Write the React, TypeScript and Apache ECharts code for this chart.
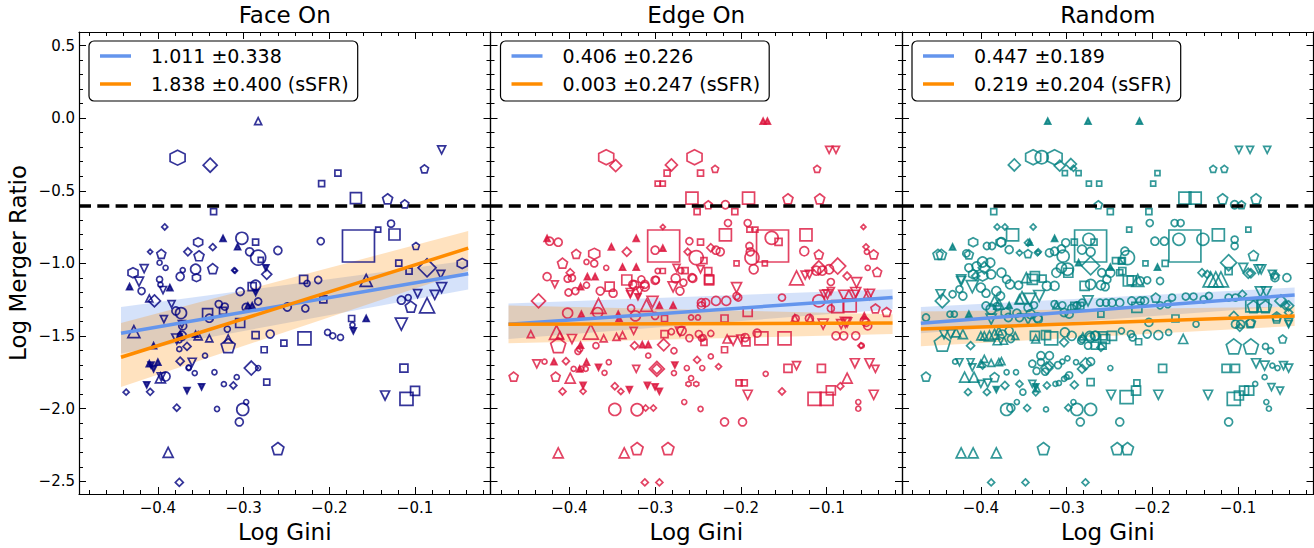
import React, { useEffect, useRef } from 'react';
import * as echarts from 'echarts';

type Pt = [number, number, number, string];

const panelTitles = ['Face On', 'Edge On', 'Random'];
const panelColors = ['#000080', '#DC143C', '#008080'];
const xAxisName = 'Log Gini';
const yAxisName = 'Log Merger Ratio';
const xTickValues = [-0.4, -0.3, -0.2, -0.1];
const xMinorTicks = [-0.48, -0.46, -0.44, -0.42, -0.38, -0.36, -0.34, -0.32, -0.28, -0.26, -0.24, -0.22, -0.18, -0.16, -0.14, -0.12, -0.08, -0.06, -0.04, -0.02];
const yTickValues = [-2.5, -2.0, -1.5, -1.0, -0.5, 0.0, 0.5];
const yMinorTicks = [-2.4, -2.3, -2.2, -2.1, -1.9, -1.8, -1.7, -1.6, -1.4, -1.3, -1.2, -1.1, -0.9, -0.8, -0.7, -0.6, -0.4, -0.3, -0.2, -0.1, 0.1, 0.2, 0.3, 0.4];
const X_MIN = -0.492;
const X_MAX = -0.012;
const Y_MIN = -2.587;
const Y_MAX = 0.593;
const mergerThreshold = -0.6;

const ratioLegend = ['1.011 \u00b10.338', '0.406 \u00b10.226', '0.447 \u00b10.189'];
const ssfrLegend = ['1.838 \u00b10.400 (sSFR)', '0.003 \u00b10.247 (sSFR)', '0.219 \u00b10.204 (sSFR)'];

const fitX = [[-0.443, -0.038], [-0.471, -0.023], [-0.47, -0.034]];
const ratioFitY = [[-1.48, -1.071], [-1.418, -1.235], [-1.411, -1.217]];
const ssfrFitY = [[-1.646, -0.895], [-1.418, -1.41], [-1.452, -1.361]];
const ratioBandUpper = [[-1.3, -0.98], [-1.275, -1.178], [-1.3, -1.166]];
const ratioBandLower = [[-1.62, -1.18], [-1.52, -1.315], [-1.48, -1.29]];
const ssfrBandUpper = [[-1.41, -0.777], [-1.29, -1.35], [-1.33, -1.297]];
const ssfrBandLower = [[-1.85, -1.05], [-1.55, -1.486], [-1.57, -1.43]];

const faceOnPoints: Pt[] = [
  [-0.283, -0.02, 7, '^'], [-0.377, -0.272, 15, 'h'], [-0.339, -0.324, 14, 'D'], [-0.209, -0.45, 6, 's'],
  [-0.19, -0.379, 6, 's'], [-0.089, -0.349, 8, 'p'], [-0.069, -0.219, 8, 'v'], [-0.169, -0.55, 11, 's'],
  [-0.132, -0.555, 10, 'p'], [-0.112, -0.59, 8, 'p'], [-0.335, -0.644, 6, 's'], [-0.392, -0.749, 6, 'D'],
  [-0.128, -0.726, 7, 'o'], [-0.143, -0.767, 5, 's'], [-0.166, -0.88, 32, 's'], [-0.124, -0.801, 11, 's'],
  [-0.21, -0.847, 7, 'o'], [-0.302, -0.827, 12, 'o'], [-0.324, -0.827, 6, '^'], [-0.353, -0.854, 9, 'h'],
  [-0.286, -0.854, 6, 's'], [-0.336, -0.888, 7, 'D'], [-0.365, -0.92, 8, 'D'], [-0.409, -0.92, 5, 'D'],
  [-0.396, -0.934, 9, 'p'], [-0.352, -0.947, 10, 'p'], [-0.283, -0.96, 15, 'o'], [-0.28, -0.975, 5, 's'],
  [-0.26, -0.911, 8, 'o'], [-0.293, -0.92, 8, 'o'], [-0.307, -0.885, 6, '^'], [-0.099, -0.88, 7, 'p'],
  [-0.31, -1.05, 5, 'D'], [-0.336, -1.036, 10, 'p'], [-0.356, -1.04, 10, 'o'], [-0.355, -1.098, 8, 'h'],
  [-0.374, -1.09, 8, 'o'], [-0.371, -1.046, 5, 'o'], [-0.398, -0.995, 5, 'o'], [-0.391, -1.03, 5, 'o'],
  [-0.416, -1.036, 8, 'v'], [-0.429, -1.064, 10, 'h'], [-0.119, -0.998, 6, 's'], [-0.045, -1.0, 10, 'h'],
  [-0.086, -1.03, 18, 'D'], [-0.107, -1.053, 6, 's'], [-0.07, -1.075, 8, 'v'], [-0.069, -1.166, 10, 'v'],
  [-0.23, -1.11, 8, 's'], [-0.226, -1.137, 6, 'o'], [-0.213, -1.114, 7, 'o'], [-0.157, -1.116, 12, '^'],
  [-0.273, -1.075, 10, 'D'], [-0.274, -1.03, 6, 'v'], [-0.311, -1.047, 5, 'D'], [-0.398, -1.11, 6, 'o'],
  [-0.397, -1.146, 5, 'o'], [-0.433, -1.16, 6, '^'], [-0.422, -1.125, 9, 'v'], [-0.419, -1.19, 7, 'o'],
  [-0.386, -1.166, 6, '^'], [-0.394, -1.183, 7, 'v'], [-0.404, -1.258, 12, 'D'], [-0.41, -1.24, 7, '^'],
  [-0.304, -1.194, 8, 'o'], [-0.29, -1.16, 8, 's'], [-0.286, -1.15, 10, 'o'], [-0.286, -1.2, 6, 'v'],
  [-0.283, -1.262, 7, 'o'], [-0.384, -1.28, 7, 'v'], [-0.373, -1.342, 11, 'o'], [-0.379, -1.327, 8, 'o'],
  [-0.393, -1.384, 7, 'v'], [-0.428, -1.47, 12, '^'], [-0.342, -1.345, 10, 's'], [-0.34, -1.377, 8, 'o'],
  [-0.329, -1.28, 7, 'o'], [-0.322, -1.297, 7, 'o'], [-0.324, -1.327, 7, 's'], [-0.297, -1.303, 8, 'o'],
  [-0.29, -1.29, 6, '^'], [-0.372, -1.418, 7, 'v'], [-0.371, -1.43, 8, 'o'], [-0.304, -1.41, 9, 's'],
  [-0.319, -1.452, 6, 'o'], [-0.249, -1.3, 8, 'o'], [-0.228, -1.31, 7, 'o'], [-0.207, -1.247, 7, 's'],
  [-0.174, -1.379, 6, 's'], [-0.173, -1.423, 5, 'o'], [-0.172, -1.464, 6, 'v'], [-0.157, -1.379, 6, '^'],
  [-0.116, -1.418, 12, 'v'], [-0.086, -1.288, 15, '^'], [-0.105, -1.297, 11, 'p'], [-0.116, -1.253, 8, 'o'],
  [-0.108, -1.235, 6, 'o'], [-0.097, -1.208, 8, 'v'], [-0.077, -1.217, 9, 'v'], [-0.269, -1.486, 8, 'o'],
  [-0.286, -1.493, 7, 's'], [-0.276, -1.594, 6, 's'], [-0.229, -1.516, 13, 's'], [-0.253, -1.548, 6, 's'],
  [-0.202, -1.475, 6, 'o'], [-0.196, -1.498, 6, 'o'], [-0.187, -1.509, 6, 'o'], [-0.318, -1.566, 14, 'p'],
  [-0.318, -1.52, 8, '^'], [-0.34, -1.516, 7, '^'], [-0.356, -1.486, 6, '^'], [-0.366, -1.571, 8, 'D'],
  [-0.374, -1.486, 6, '^'], [-0.375, -1.53, 5, 'o'], [-0.375, -1.59, 5, 'o'], [-0.345, -1.635, 5, 'o'],
  [-0.374, -1.673, 8, 'D'], [-0.36, -1.68, 8, 'v'], [-0.364, -1.715, 5, 'o'], [-0.357, -1.755, 5, 'o'],
  [-0.334, -1.749, 5, 'o'], [-0.291, -1.72, 14, 'D'], [-0.283, -1.72, 5, 'o'], [-0.273, -1.817, 6, 's'],
  [-0.41, -1.69, 6, '^'], [-0.408, -1.7, 6, 'v'], [-0.405, -1.726, 6, 'v'], [-0.4, -1.68, 6, '^'],
  [-0.397, -1.788, 10, '^'], [-0.391, -1.778, 9, 'o'], [-0.312, -1.84, 7, 'D'], [-0.323, -1.831, 5, 'o'],
  [-0.413, -1.836, 6, 'v'], [-0.113, -1.72, 8, 's'], [-0.437, -1.886, 6, 'D'], [-0.409, -1.884, 7, 'D'],
  [-0.366, -1.875, 6, 'v'], [-0.349, -1.849, 6, 'v'], [-0.308, -1.783, 5, 'o'], [-0.378, -1.993, 7, 'D'],
  [-0.331, -2.002, 5, 'o'], [-0.301, -2.005, 12, 'o'], [-0.297, -1.954, 5, 'o'], [-0.305, -2.091, 8, 'o'],
  [-0.388, -2.301, 10, '^'], [-0.26, -2.274, 12, 'p'], [-0.375, -2.507, 8, 'D'], [-0.135, -1.909, 9, 'v'],
  [-0.11, -1.932, 13, 's'], [-0.1, -1.877, 9, 's'], [-0.405, -1.566, 6, '^'], [-0.353, -1.498, 8, '^'],
  [-0.378, -1.52, 10, 'v'], [-0.372, -1.498, 9, 'o'], [-0.364, -1.72, 5, 'o'], [-0.396, -1.78, 8, 'v'],
  [-0.295, -1.292, 6, '^'],
];

const edgeOnPoints: Pt[] = [
  [-0.174, -0.02, 6, '^'], [-0.169, -0.02, 6, '^'], [-0.097, -0.219, 7, 'v'], [-0.089, -0.219, 7, 'v'],
  [-0.357, -0.269, 15, 'h'], [-0.346, -0.327, 12, 'D'], [-0.281, -0.322, 12, 'D'], [-0.254, -0.269, 15, 'h'],
  [-0.286, -0.379, 6, 's'], [-0.247, -0.379, 6, 's'], [-0.23, -0.349, 7, 'p'], [-0.111, -0.349, 7, 'p'],
  [-0.297, -0.45, 5, 's'], [-0.291, -0.45, 5, 's'], [-0.257, -0.55, 12, 's'], [-0.191, -0.55, 12, 's'],
  [-0.145, -0.555, 10, 'p'], [-0.108, -0.555, 10, 'p'], [-0.238, -0.596, 8, 'p'], [-0.218, -0.596, 8, 'o'],
  [-0.251, -0.644, 6, 's'], [-0.207, -0.644, 6, 's'], [-0.215, -0.722, 7, 'o'], [-0.192, -0.722, 7, 'o'],
  [-0.19, -0.767, 5, 's'], [-0.183, -0.767, 5, 's'], [-0.291, -0.749, 5, 'D'], [-0.057, -0.749, 5, 'D'],
  [-0.29, -0.88, 32, 's'], [-0.3, -0.909, 8, 'o'], [-0.291, -0.895, 6, '^'], [-0.163, -0.88, 32, 's'],
  [-0.164, -0.824, 13, 'o'], [-0.156, -0.851, 7, 's'], [-0.218, -0.803, 12, 's'], [-0.124, -0.803, 12, 's'],
  [-0.26, -0.847, 7, 'o'], [-0.247, -0.854, 6, 's'], [-0.322, -0.827, 6, '^'], [-0.351, -0.886, 6, '^'],
  [-0.423, -0.847, 8, 'o'], [-0.413, -0.854, 8, 'o'], [-0.426, -0.827, 6, '^'], [-0.333, -0.92, 9, 'D'],
  [-0.392, -0.934, 9, 'p'], [-0.371, -0.934, 11, 'h'], [-0.371, -1.0, 7, 'o'], [-0.408, -0.998, 10, 'p'],
  [-0.38, -0.99, 5, 'o'], [-0.357, -1.03, 5, 'o'], [-0.338, -1.025, 6, '^'], [-0.322, -1.025, 6, '^'],
  [-0.252, -0.96, 14, 'o'], [-0.262, -0.92, 7, 'D'], [-0.235, -0.892, 8, 'D'], [-0.229, -0.909, 8, 'o'],
  [-0.224, -0.92, 8, 'o'], [-0.205, -1.0, 5, 's'], [-0.189, -0.92, 8, 'o'], [-0.187, -0.96, 14, 'o'],
  [-0.185, -1.04, 9, 'o'], [-0.172, -1.0, 5, 's'], [-0.126, -0.916, 9, 'o'], [-0.109, -0.938, 9, 'p'],
  [-0.109, -1.03, 14, 'D'], [-0.087, -1.018, 16, 'D'], [-0.054, -0.886, 6, 'D'], [-0.053, -0.92, 5, 'o'],
  [-0.045, -0.938, 9, 'p'], [-0.135, -1.1, 14, '^'], [-0.125, -1.08, 8, 'v'], [-0.041, -1.059, 9, 'p'],
  [-0.052, -1.03, 5, 'o'], [-0.399, -1.064, 8, 'D'], [-0.426, -1.091, 8, 'o'], [-0.076, -1.087, 8, 'D'],
  [-0.297, -1.052, 5, 'o'], [-0.291, -1.052, 5, 's'], [-0.275, -1.03, 7, 'v'], [-0.27, -1.05, 6, 'o'],
  [-0.265, -1.05, 6, 's'], [-0.417, -1.144, 7, 'v'], [-0.402, -1.105, 7, 'o'], [-0.397, -1.1, 7, 'o'],
  [-0.379, -1.091, 6, '^'], [-0.37, -1.091, 6, '^'], [-0.333, -1.114, 10, 's'], [-0.316, -1.11, 7, 'o'],
  [-0.299, -1.114, 7, 'o'], [-0.276, -1.103, 9, 'o'], [-0.279, -1.162, 10, 'v'], [-0.267, -1.132, 7, 'o'],
  [-0.256, -1.103, 8, 'o'], [-0.393, -1.19, 7, 'o'], [-0.387, -1.16, 6, '^'], [-0.38, -1.15, 6, 'o'],
  [-0.364, -1.19, 8, 'o'], [-0.353, -1.16, 9, 's'], [-0.324, -1.15, 9, 'o'], [-0.312, -1.16, 9, 'o'],
  [-0.329, -1.212, 7, 'v'], [-0.32, -1.23, 6, 'v'], [-0.436, -1.258, 14, 'D'], [-0.366, -1.292, 15, '^'],
  [-0.402, -1.342, 10, 'o'], [-0.367, -1.338, 10, 'o'], [-0.386, -1.349, 6, '^'], [-0.343, -1.349, 6, '^'],
  [-0.328, -1.308, 7, 'o'], [-0.31, -1.288, 12, '^'], [-0.303, -1.265, 11, 'v'], [-0.323, -1.361, 10, 'o'],
  [-0.295, -1.288, 6, '^'], [-0.279, -1.288, 6, '^'], [-0.3, -1.361, 7, 'o'], [-0.289, -1.379, 6, 's'],
  [-0.246, -1.292, 8, 'o'], [-0.342, -1.379, 6, '^'], [-0.445, -1.486, 7, '^'], [-0.415, -1.475, 14, '^'],
  [-0.411, -1.493, 7, '^'], [-0.397, -1.52, 9, 'v'], [-0.375, -1.47, 15, '^'], [-0.413, -1.562, 15, 'p'],
  [-0.36, -1.516, 7, '^'], [-0.345, -1.505, 7, '^'], [-0.338, -1.493, 7, '^'], [-0.325, -1.464, 7, 'v'],
  [-0.387, -1.562, 6, '^'], [-0.369, -1.566, 6, 'o'], [-0.39, -1.605, 6, 'o'], [-0.324, -1.566, 8, 'D'],
  [-0.315, -1.559, 6, '^'], [-0.308, -1.559, 6, '^'], [-0.308, -1.635, 5, 'o'], [-0.29, -1.56, 12, 'D'],
  [-0.278, -1.601, 6, 'o'], [-0.289, -1.486, 7, 's'], [-0.438, -1.692, 8, 'v'], [-0.429, -1.676, 5, 'o'],
  [-0.418, -1.676, 6, '^'], [-0.404, -1.673, 7, 'D'], [-0.388, -1.726, 6, '^'], [-0.399, -1.79, 10, '^'],
  [-0.395, -1.726, 5, 'o'], [-0.386, -1.726, 5, 'o'], [-0.381, -1.726, 5, 'o'], [-0.38, -1.68, 6, '^'],
  [-0.366, -1.715, 6, 'v'], [-0.359, -1.753, 5, 'o'], [-0.354, -1.68, 5, 'o'], [-0.322, -1.726, 7, 'v'],
  [-0.298, -1.726, 15, 'D'], [-0.298, -1.726, 10, 'D'], [-0.278, -1.755, 5, 'o'], [-0.277, -1.699, 6, 'v'],
  [-0.465, -1.779, 9, 'p'], [-0.416, -1.779, 9, 'p'], [-0.263, -1.72, 5, 'o'], [-0.258, -1.79, 5, 'o'],
  [-0.261, -1.83, 5, 'h'], [-0.252, -1.83, 5, 'h'], [-0.408, -1.881, 7, 'D'], [-0.384, -1.84, 6, 'v'],
  [-0.384, -1.88, 6, 'D'], [-0.347, -1.845, 7, 'D'], [-0.34, -1.881, 6, 'D'], [-0.33, -1.868, 6, 'v'],
  [-0.309, -1.84, 6, 'v'], [-0.3, -1.85, 6, 'v'], [-0.295, -1.88, 6, 'v'], [-0.347, -2.005, 12, 'o'],
  [-0.321, -2.007, 12, 'o'], [-0.311, -1.995, 6, 'D'], [-0.302, -1.995, 6, 'D'], [-0.266, -1.954, 5, 'o'],
  [-0.247, -2.002, 5, 'o'], [-0.235, -1.64, 5, 'o'], [-0.219, -2.091, 8, 'o'], [-0.198, -2.091, 8, 'o'],
  [-0.413, -2.304, 10, '^'], [-0.336, -2.304, 10, '^'], [-0.321, -2.274, 12, 'p'], [-0.285, -2.274, 12, 'p'],
  [-0.312, -2.507, 7, 'D'], [-0.295, -2.507, 7, 'D'], [-0.251, -1.664, 7, 'D'], [-0.245, -1.72, 5, 'o'],
  [-0.226, -1.71, 6, 'D'], [-0.219, -1.594, 6, 's'], [-0.202, -1.822, 6, 's'], [-0.196, -1.822, 6, 's'],
  [-0.192, -1.904, 9, 'v'], [-0.171, -1.76, 5, 'o'], [-0.152, -1.881, 7, 'D'], [-0.145, -1.722, 8, 's'],
  [-0.135, -1.703, 8, 'v'], [-0.106, -1.722, 8, 's'], [-0.114, -1.932, 13, 's'], [-0.1, -1.932, 13, 's'],
  [-0.095, -1.874, 9, 's'], [-0.084, -1.845, 7, 'D'], [-0.076, -1.79, 10, '^'], [-0.067, -1.687, 9, 'v'],
  [-0.05, -1.687, 9, 'v'], [-0.043, -1.726, 7, 'v'], [-0.045, -1.904, 9, 'v'], [-0.063, -1.954, 5, 'o'],
  [-0.063, -2.0, 5, 'o'], [-0.06, -1.566, 6, 'D'], [-0.08, -1.498, 8, 'o'], [-0.089, -1.498, 8, 'o'],
  [-0.066, -1.498, 8, 'o'], [-0.149, -1.516, 13, 's'], [-0.176, -1.516, 13, 's'], [-0.181, -1.48, 8, 'o'],
  [-0.195, -1.51, 8, 'o'], [-0.194, -1.54, 8, 's'], [-0.216, -1.52, 8, '^'], [-0.2, -1.52, 8, 'v'],
  [-0.137, -1.377, 7, '^'], [-0.12, -1.379, 8, 'o'], [-0.054, -1.406, 8, 'o'], [-0.104, -1.418, 10, 'v'],
  [-0.078, -1.406, 10, 'v'], [-0.03, -1.334, 9, 'p'], [-0.043, -1.31, 9, 'p'], [-0.073, -1.288, 13, 's'],
  [-0.087, -1.297, 12, 's'], [-0.095, -1.31, 7, 'o'], [-0.099, -1.212, 9, 'v'], [-0.109, -1.258, 12, 'o'],
  [-0.052, -1.212, 8, '^'], [-0.08, -1.219, 10, 'v'], [-0.068, -1.219, 10, 'v'], [-0.065, -1.132, 10, 'v'],
  [-0.095, -1.128, 7, 'o'], [-0.152, -1.235, 7, 'o'], [-0.192, -1.334, 9, 's'], [-0.205, -1.224, 7, 'o'],
  [-0.205, -1.166, 10, 'v'], [-0.229, -1.258, 9, 'o'], [-0.217, -1.258, 9, 'o'], [-0.219, -1.379, 7, 's'],
  [-0.246, -1.27, 8, 'o'], [-0.241, -1.27, 8, 'o'], [-0.258, -1.372, 5, 'o'], [-0.25, -1.372, 5, 'o'],
  [-0.269, -1.464, 9, 'o'], [-0.271, -1.47, 9, 'v'], [-0.281, -1.47, 6, 'o'], [-0.26, -1.514, 7, 'o'],
  [-0.246, -1.514, 6, 'o'], [-0.243, -1.543, 6, 's'], [-0.235, -1.482, 6, 'o'], [-0.388, -1.589, 6, 'o'],
  [-0.326, -1.144, 8, 'o'], [-0.312, -1.144, 8, 'o'], [-0.3, -1.116, 8, 'o'], [-0.271, -1.19, 8, 'o'],
  [-0.257, -1.098, 8, 'o'], [-0.237, -1.11, 9, 's'], [-0.401, -1.2, 7, 'o'], [-0.329, -1.2, 8, 'v'],
  [-0.318, -1.19, 8, 'v'], [-0.349, -1.205, 8, 'o'], [-0.243, -0.98, 6, 's'], [-0.247, -1.04, 7, 'v'],
  [-0.238, -1.053, 7, 's'], [-0.237, -1.116, 9, 's'], [-0.19, -0.88, 7, 'o'], [-0.203, -1.235, 7, 'o'],
  [-0.112, -1.05, 9, 'o'], [-0.105, -1.05, 9, 'o'], [-0.097, -1.04, 9, 'o'], [-0.12, -1.075, 8, 'v'],
  [-0.103, -1.212, 8, 'v'], [-0.095, -1.19, 7, 'v'], [-0.066, -1.2, 10, 'v'], [-0.05, -1.212, 10, 'v'],
  [-0.249, -1.486, 7, 'o'], [-0.244, -1.51, 6, 'o'], [-0.209, -1.532, 9, 'v'], [-0.136, -1.379, 7, 'o'],
  [-0.119, -1.379, 7, '^'], [-0.083, -1.418, 9, 'v'], [-0.076, -1.406, 9, 'v'], [-0.056, -1.361, 6, '^'],
  [-0.056, -1.395, 8, 'o'], [-0.052, -1.43, 8, 'o'], [-0.059, -1.566, 5, 'o'],
];

const randomPoints: Pt[] = [
  [-0.322, -0.02, 6, '^'], [-0.275, -0.02, 6, '^'], [-0.215, -0.02, 6, '^'], [-0.099, -0.219, 7, 'v'],
  [-0.086, -0.219, 7, 'v'], [-0.066, -0.219, 7, 'v'], [-0.129, -0.349, 7, 'p'], [-0.116, -0.349, 7, 'p'],
  [-0.361, -0.322, 12, 'D'], [-0.339, -0.269, 15, 'h'], [-0.329, -0.269, 13, 'o'], [-0.314, -0.269, 15, 'h'],
  [-0.308, -0.327, 11, 'D'], [-0.295, -0.316, 11, 'D'], [-0.302, -0.379, 5, 's'], [-0.292, -0.345, 6, 'D'],
  [-0.286, -0.379, 5, 's'], [-0.274, -0.45, 5, 's'], [-0.262, -0.45, 5, 's'], [-0.194, -0.379, 5, 's'],
  [-0.199, -0.45, 5, 's'], [-0.162, -0.55, 12, 's'], [-0.15, -0.55, 12, 's'], [-0.118, -0.555, 10, 'p'],
  [-0.079, -0.555, 10, 'p'], [-0.104, -0.596, 8, 'o'], [-0.096, -0.596, 8, 'p'], [-0.263, -0.596, 8, 'p'],
  [-0.385, -0.644, 6, 's'], [-0.249, -0.644, 6, 's'], [-0.204, -0.644, 6, 's'], [-0.203, -0.722, 7, 'o'],
  [-0.227, -0.767, 5, 's'], [-0.088, -0.767, 5, 's'], [-0.381, -0.749, 6, 'D'], [-0.372, -0.749, 6, 'D'],
  [-0.339, -0.749, 6, 'D'], [-0.363, -0.803, 12, 's'], [-0.314, -0.827, 6, '^'], [-0.272, -0.88, 32, 's'],
  [-0.162, -0.88, 32, 's'], [-0.274, -0.834, 12, 'o'], [-0.268, -0.854, 6, 's'], [-0.169, -0.834, 12, 'o'],
  [-0.141, -0.834, 12, 'o'], [-0.174, -0.722, 7, 'o'], [-0.167, -0.722, 7, 'o'], [-0.123, -0.803, 12, 's'],
  [-0.104, -0.836, 7, 'o'], [-0.104, -0.88, 7, 'o'], [-0.197, -0.847, 8, 'o'], [-0.186, -0.847, 8, 'o'],
  [-0.433, -0.886, 6, '^'], [-0.45, -0.938, 10, 'p'], [-0.446, -0.938, 10, 'p'], [-0.414, -0.938, 9, 'p'],
  [-0.409, -0.854, 9, 'h'], [-0.393, -0.88, 7, 'o'], [-0.387, -0.88, 7, 'o'], [-0.376, -0.854, 9, 'o'],
  [-0.367, -0.905, 8, 'o'], [-0.345, -0.858, 7, 'D'], [-0.345, -0.932, 8, 'p'], [-0.333, -0.92, 6, 'D'],
  [-0.304, -0.95, 12, 'o'], [-0.306, -0.9, 8, 'o'], [-0.272, -1.016, 18, 'D'], [-0.272, -0.92, 9, 'o'],
  [-0.232, -0.916, 8, 'o'], [-0.229, -0.96, 14, 'o'], [-0.236, -0.984, 6, 's'], [-0.208, -1.0, 5, 's'],
  [-0.194, -1.025, 6, '^'], [-0.185, -1.0, 6, 's'], [-0.249, -1.025, 6, '^'], [-0.111, -0.995, 16, 'D'],
  [-0.142, -1.064, 8, 'D'], [-0.136, -1.075, 8, 'D'], [-0.082, -0.945, 10, 'p'], [-0.076, -1.04, 9, 'v'],
  [-0.073, -1.04, 9, 'v'], [-0.057, -1.098, 8, 'o'], [-0.043, -1.098, 8, 'o'], [-0.06, -1.075, 8, 'v'],
  [-0.085, -1.068, 9, 'D'], [-0.417, -0.931, 7, 'o'], [-0.377, -0.854, 9, 'h'], [-0.343, -0.854, 6, '^'],
  [-0.355, -0.927, 6, 'D'], [-0.334, -0.927, 6, 'D'], [-0.32, -0.927, 8, 'o'], [-0.314, -0.916, 8, 'o'],
  [-0.301, -0.858, 8, 'o'], [-0.291, -0.854, 6, 's'], [-0.282, -0.905, 9, 'o'], [-0.286, -0.995, 6, '^'],
  [-0.414, -1.03, 8, 'o'], [-0.405, -1.02, 9, 'o'], [-0.398, -0.99, 10, 'o'], [-0.389, -0.995, 9, 'o'],
  [-0.396, -1.03, 12, 'D'], [-0.398, -1.087, 10, 'h'], [-0.406, -1.087, 8, 'D'], [-0.41, -1.16, 12, 'v'],
  [-0.423, -1.121, 9, 'v'], [-0.433, -1.212, 7, 'o'], [-0.425, -1.178, 7, 'o'], [-0.421, -1.224, 8, 'o'],
  [-0.447, -1.212, 9, 'v'], [-0.445, -1.258, 14, 'D'], [-0.464, -1.372, 7, 'o'], [-0.436, -1.349, 6, 'o'],
  [-0.431, -1.349, 6, 'o'], [-0.414, -1.349, 6, '^'], [-0.4, -1.166, 9, 'o'], [-0.394, -1.205, 8, 'o'],
  [-0.382, -1.19, 9, 'o'], [-0.377, -1.224, 8, 'o'], [-0.384, -1.258, 10, '^'], [-0.379, -1.28, 10, '^'],
  [-0.394, -1.292, 8, 'o'], [-0.388, -1.315, 10, 'o'], [-0.381, -1.297, 8, 'o'], [-0.388, -1.384, 10, 'v'],
  [-0.371, -1.338, 9, 'h'], [-0.367, -1.288, 6, '^'], [-0.358, -1.342, 8, 'o'], [-0.356, -1.15, 8, 'o'],
  [-0.366, -1.144, 9, 'o'], [-0.34, -1.11, 10, 's'], [-0.328, -1.105, 7, 's'], [-0.323, -1.155, 9, 'o'],
  [-0.314, -1.155, 9, 'o'], [-0.332, -1.224, 11, 'v'], [-0.345, -1.303, 8, 'o'], [-0.338, -1.288, 7, 'o'],
  [-0.342, -1.349, 9, 'o'], [-0.334, -1.372, 9, 'o'], [-0.355, -1.247, 9, '^'], [-0.312, -1.288, 7, '^'],
  [-0.303, -1.338, 8, 'o'], [-0.297, -1.349, 8, 'o'], [-0.291, -1.292, 7, 's'], [-0.284, -1.292, 7, 's'],
  [-0.299, -1.04, 12, 'o'], [-0.306, -1.03, 10, 'o'], [-0.279, -1.155, 9, 's'], [-0.272, -1.144, 10, 'o'],
  [-0.26, -1.15, 9, 'o'], [-0.255, -1.16, 8, 'o'], [-0.253, -1.11, 8, 'o'], [-0.26, -1.349, 6, 's'],
  [-0.396, -1.498, 8, '^'], [-0.39, -1.498, 10, '^'], [-0.384, -1.486, 10, '^'], [-0.379, -1.464, 8, '^'],
  [-0.381, -1.532, 8, '^'], [-0.4, -1.498, 8, '^'], [-0.375, -1.486, 8, 'o'], [-0.367, -1.464, 8, 'o'],
  [-0.365, -1.52, 7, 'o'], [-0.373, -1.532, 7, '^'], [-0.445, -1.548, 16, 'p'], [-0.443, -1.486, 9, 'v'],
  [-0.435, -1.486, 9, 'v'], [-0.429, -1.475, 9, '^'], [-0.421, -1.486, 9, '^'], [-0.412, -1.566, 8, 'D'],
  [-0.36, -1.498, 7, '^'], [-0.337, -1.498, 9, 's'], [-0.336, -1.52, 8, '^'], [-0.318, -1.516, 13, 's'],
  [-0.324, -1.493, 9, 's'], [-0.303, -1.543, 9, 'D'], [-0.283, -1.532, 7, 'o'], [-0.275, -1.566, 7, 'o'],
  [-0.281, -1.502, 7, '^'], [-0.273, -1.498, 9, 'o'], [-0.267, -1.498, 9, 'o'], [-0.267, -1.566, 7, 's'],
  [-0.258, -1.566, 7, 's'], [-0.258, -1.498, 8, 's'], [-0.425, -1.68, 7, 'v'], [-0.412, -1.68, 7, 'v'],
  [-0.41, -1.715, 7, 'v'], [-0.43, -1.676, 5, 'o'], [-0.4, -1.69, 7, '^'], [-0.396, -1.657, 7, '^'],
  [-0.388, -1.685, 7, '^'], [-0.379, -1.68, 7, '^'], [-0.376, -1.673, 7, '^'], [-0.398, -1.703, 7, 'D'],
  [-0.37, -1.749, 5, 'o'], [-0.359, -1.749, 5, 'o'], [-0.384, -1.783, 9, 'p'], [-0.419, -1.783, 10, '^'],
  [-0.408, -1.783, 10, '^'], [-0.392, -1.824, 8, 'v'], [-0.464, -1.779, 9, 'p'], [-0.34, -1.69, 7, 'o'],
  [-0.33, -1.68, 7, 'o'], [-0.335, -1.74, 7, 'o'], [-0.325, -1.745, 7, 'o'], [-0.31, -1.7, 7, 'o'],
  [-0.323, -1.72, 12, 'D'], [-0.32, -1.703, 9, 'D'], [-0.297, -1.77, 7, 'o'], [-0.33, -1.635, 8, 'o'],
  [-0.32, -1.635, 8, 'o'], [-0.305, -1.676, 5, 'o'], [-0.299, -1.653, 5, 'o'], [-0.289, -1.68, 5, 'o'],
  [-0.278, -1.692, 12, 'D'], [-0.282, -1.726, 9, 'D'], [-0.272, -1.676, 8, 'o'], [-0.291, -1.836, 8, 'D'],
  [-0.323, -1.84, 7, 'D'], [-0.313, -1.829, 5, 'o'], [-0.309, -1.824, 5, 'o'], [-0.303, -1.795, 5, 'o'],
  [-0.3, -1.783, 5, 'o'], [-0.34, -1.829, 7, 'v'], [-0.335, -1.858, 7, '^'], [-0.272, -1.817, 7, 's'],
  [-0.4, -1.829, 7, 'v'], [-0.415, -1.886, 7, 'D'], [-0.393, -1.886, 7, 'D'], [-0.382, -1.868, 6, 'v'],
  [-0.372, -1.84, 8, 'D'], [-0.355, -1.829, 7, 'D'], [-0.351, -1.886, 6, 'o'], [-0.336, -1.89, 6, 'D'],
  [-0.336, -1.85, 6, 'v'], [-0.37, -2.005, 12, 'o'], [-0.365, -1.995, 8, 'o'], [-0.358, -1.954, 5, 'o'],
  [-0.346, -1.995, 7, 'D'], [-0.324, -2.005, 5, 'o'], [-0.298, -1.993, 7, 'D'], [-0.292, -1.954, 5, 'o'],
  [-0.288, -2.005, 12, 'o'], [-0.272, -2.005, 12, 'o'], [-0.284, -2.091, 8, 'o'], [-0.238, -2.091, 8, 'o'],
  [-0.423, -2.304, 10, '^'], [-0.409, -2.304, 10, '^'], [-0.382, -2.304, 10, '^'], [-0.327, -2.274, 12, 'p'],
  [-0.241, -2.274, 12, 'p'], [-0.229, -2.274, 12, 'p'], [-0.388, -2.507, 7, 'D'], [-0.348, -2.507, 7, 'D'],
  [-0.278, -2.507, 7, 'D'], [-0.248, -1.904, 9, 'v'], [-0.23, -1.92, 13, 's'], [-0.219, -1.875, 9, 's'],
  [-0.218, -1.822, 6, 's'], [-0.193, -1.904, 9, 'v'], [-0.135, -1.904, 9, 'v'], [-0.188, -1.722, 8, 's'],
  [-0.249, -1.72, 5, 'o'], [-0.105, -1.932, 13, 's'], [-0.099, -1.909, 9, 's'], [-0.093, -1.875, 9, 's'],
  [-0.087, -1.875, 9, 's'], [-0.08, -1.829, 5, 'o'], [-0.061, -1.851, 7, 'v'], [-0.051, -1.875, 7, 'v'],
  [-0.067, -1.954, 5, 'o'], [-0.064, -2.0, 5, 'o'], [-0.111, -2.091, 8, 'o'], [-0.114, -1.722, 8, 's'],
  [-0.103, -1.722, 8, 's'], [-0.079, -1.687, 9, 'v'], [-0.069, -1.703, 9, 'v'], [-0.06, -1.703, 5, 'o'],
  [-0.054, -1.72, 5, 'o'], [-0.047, -1.703, 8, 'v'], [-0.041, -1.72, 8, 'v'], [-0.069, -1.783, 5, 'o'],
  [-0.164, -1.52, 9, '^'], [-0.105, -1.571, 15, 'p'], [-0.085, -1.571, 15, 'p'], [-0.068, -1.571, 6, 'o'],
  [-0.062, -1.601, 6, 'o'], [-0.048, -1.52, 8, 'p'], [-0.085, -1.406, 9, 'p'], [-0.098, -1.44, 8, 'D'],
  [-0.055, -1.379, 9, 'p'], [-0.041, -1.406, 8, 'v'], [-0.206, -1.486, 8, 'o'], [-0.193, -1.493, 9, 'o'],
  [-0.181, -1.475, 6, 'o'], [-0.173, -1.379, 7, 's'], [-0.204, -1.406, 8, 'o'], [-0.236, -1.464, 6, 'o'],
  [-0.225, -1.486, 7, 'o'], [-0.223, -1.509, 7, 'o'], [-0.216, -1.539, 6, 's'], [-0.255, -1.52, 9, 's'],
  [-0.247, -1.498, 9, 's'], [-0.074, -1.196, 10, 'v'], [-0.067, -1.196, 10, 'v'], [-0.084, -1.292, 12, 's'],
  [-0.071, -1.292, 12, 's'], [-0.05, -1.258, 12, 'D'], [-0.045, -1.288, 9, 'D'], [-0.095, -1.212, 8, 'D'],
  [-0.103, -1.235, 7, 'o'], [-0.152, -1.228, 7, 'o'], [-0.161, -1.228, 7, 'o'], [-0.14, -1.247, 7, 'o'],
  [-0.134, -1.224, 7, 'o'], [-0.196, -1.235, 9, 'p'], [-0.191, -1.288, 7, 'o'], [-0.182, -1.28, 7, 'o'],
  [-0.224, -1.258, 8, 'o'], [-0.214, -1.258, 8, 'o'], [-0.209, -1.258, 8, 'o'], [-0.218, -1.303, 10, 's'],
  [-0.247, -1.27, 8, 'o'], [-0.238, -1.27, 8, 'o'], [-0.261, -1.27, 7, 'o'], [-0.254, -1.27, 7, 'o'],
  [-0.275, -1.258, 10, 'v'], [-0.282, -1.27, 7, 'o'], [-0.288, -1.292, 8, 'o'], [-0.294, -1.31, 8, 'o'],
  [-0.314, -1.28, 7, 'o'], [-0.305, -1.288, 7, 'o'], [-0.368, -1.372, 8, 'o'], [-0.355, -1.372, 8, 'o'],
  [-0.345, -1.384, 10, 'v'], [-0.333, -1.384, 8, 'o'], [-0.302, -1.475, 9, 'o'], [-0.294, -1.498, 9, 'o'],
  [-0.282, -1.52, 7, 'o'], [-0.272, -1.51, 9, 'o'], [-0.266, -1.498, 9, 'o'], [-0.26, -1.578, 8, 'D'],
  [-0.057, -1.082, 9, 'D'], [-0.132, -1.11, 15, '^'], [-0.126, -1.11, 15, '^'], [-0.12, -1.11, 15, '^'],
  [-0.243, -0.98, 6, 's'], [-0.235, -0.98, 6, 's'], [-0.235, -1.053, 7, 's'], [-0.224, -1.116, 9, 's'],
  [-0.217, -1.116, 12, '^'], [-0.214, -1.121, 8, 'o'], [-0.206, -1.116, 7, 'o'], [-0.191, -1.121, 7, 'o'],
  [-0.088, -1.068, 10, 'D'], [-0.094, -1.03, 9, 'v'], [-0.111, -1.053, 7, 's'], [-0.177, -1.235, 7, 'o'],
  [-0.111, -1.235, 7, 'o'], [-0.082, -1.297, 12, 'p'], [-0.068, -1.297, 12, 'p'], [-0.041, -1.292, 10, 'D'],
  [-0.041, -1.338, 8, 'D'], [-0.041, -1.418, 7, 'v'], [-0.055, -1.365, 9, 'p'], [-0.149, -1.418, 6, 'o'],
  [-0.105, -1.361, 9, 'D'], [-0.103, -1.418, 8, 'o'], [-0.097, -1.418, 8, 'o'], [-0.086, -1.411, 9, 'p'],
  [-0.423, -1.11, 9, 'v'], [-0.409, -1.075, 9, 'h'], [-0.388, -1.075, 9, 'o'], [-0.376, -1.064, 9, 'o'],
  [-0.37, -1.11, 8, 'o'], [-0.347, -1.098, 10, '^'], [-0.337, -1.087, 9, 's'], [-0.352, -1.235, 12, '^'],
  [-0.343, -1.247, 12, 'v'], [-0.312, -1.064, 9, 'o'], [-0.298, -1.064, 9, 's'], [-0.259, -1.064, 8, 'o'],
  [-0.228, -1.121, 10, 's'], [-0.249, -1.064, 9, 'o'], [-0.238, -1.064, 6, 's'],
];

const panelPoints = [faceOnPoints, edgeOnPoints, randomPoints];

const FONT = 'DejaVu Sans';
const GRID_LEFT = [79, 490.5, 902];
const GRID_W = 411.5;
const GRID_TOP = 32;
const GRID_H = 464;
const RATIO_COLOR = '#6495ED';
const SSFR_COLOR = '#FF8C00';

const SYMBOLS: Record<string, string> = {
  o: 'circle',
  s: 'rect',
  '^': 'triangle',
  v: 'triangle',
  D: 'diamond',
  p: 'path://M0,-1L0.951,-0.309L0.588,0.809L-0.588,0.809L-0.951,-0.309Z',
  h: 'path://M0,-1L0.866,-0.5L0.866,0.5L0,1L-0.866,0.5L-0.866,-0.5Z',
};

const minus = (s: string) => s.replace('-', '\u2212');

function buildOption() {
  const grid: any[] = [];
  const xAxis: any[] = [];
  const yAxis: any[] = [];
  const series: any[] = [];
  const axisLineStyle = { color: '#000', width: 1.2 };
  const tickStyle = { color: '#000', width: 1 };

  for (let g = 0; g < 3; g++) {
    grid.push({ left: GRID_LEFT[g], top: GRID_TOP, width: GRID_W, height: GRID_H, containLabel: false });
    const xBase = { type: 'value', gridIndex: g, min: X_MIN, max: X_MAX, splitLine: { show: false } };
    const yBase = { type: 'value', gridIndex: g, min: Y_MIN, max: Y_MAX, splitLine: { show: false } };
    xAxis.push(
      {
        ...xBase, position: 'bottom',
        name: xAxisName, nameLocation: 'middle', nameGap: 26,
        nameTextStyle: { fontSize: 23, color: '#000', fontFamily: FONT },
        axisLine: { show: true, onZero: false, lineStyle: axisLineStyle },
        axisTick: { show: true, inside: true, length: 7, customValues: xTickValues, lineStyle: tickStyle },
        axisLabel: { show: true, customValues: xTickValues, formatter: (v: number) => minus(v.toFixed(1)), fontSize: 15, color: '#000', fontFamily: FONT, margin: 6 },
      },
      {
        ...xBase, position: 'bottom',
        axisLine: { show: false, onZero: false },
        axisTick: { show: true, inside: true, length: 4, customValues: xMinorTicks, lineStyle: tickStyle },
        axisLabel: { show: false },
      },
      {
        ...xBase, position: 'top',
        axisLine: { show: true, onZero: false, lineStyle: axisLineStyle },
        axisTick: { show: true, inside: true, length: 7, customValues: xTickValues, lineStyle: tickStyle },
        axisLabel: { show: false },
      },
      {
        ...xBase, position: 'top',
        axisLine: { show: false, onZero: false },
        axisTick: { show: true, inside: true, length: 4, customValues: xMinorTicks, lineStyle: tickStyle },
        axisLabel: { show: false },
      },
    );
    yAxis.push(
      {
        ...yBase, position: 'left',
        name: g === 0 ? yAxisName : '', nameLocation: 'middle', nameGap: 50,
        nameTextStyle: { fontSize: 23, color: '#000', fontFamily: FONT },
        axisLine: { show: true, onZero: false, lineStyle: axisLineStyle },
        axisTick: { show: true, inside: true, length: 7, customValues: yTickValues, lineStyle: tickStyle },
        axisLabel: { show: g === 0, customValues: yTickValues, formatter: (v: number) => minus(v.toFixed(1)), fontSize: 15, color: '#000', fontFamily: FONT, margin: 4 },
      },
      {
        ...yBase, position: 'left',
        axisLine: { show: false, onZero: false },
        axisTick: { show: true, inside: true, length: 4, customValues: yMinorTicks, lineStyle: tickStyle },
        axisLabel: { show: false },
      },
      {
        ...yBase, position: 'right',
        axisLine: { show: true, onZero: false, lineStyle: axisLineStyle },
        axisTick: { show: true, inside: true, length: 7, customValues: yTickValues, lineStyle: tickStyle },
        axisLabel: { show: false },
      },
      {
        ...yBase, position: 'right',
        axisLine: { show: false, onZero: false },
        axisTick: { show: true, inside: true, length: 4, customValues: yMinorTicks, lineStyle: tickStyle },
        axisLabel: { show: false },
      },
    );

    const ax = { xAxisIndex: g * 4, yAxisIndex: g * 4 };
    const band = (upper: number[][], lower: number[][], fill: string) => ({
      type: 'custom', ...ax, silent: true, clip: true, z: 1,
      data: fitX[g].map((x, i) => [x, upper[g][i], lower[g][i]]),
      encode: { x: 0, y: [1, 2] },
      renderItem: (params: any, api: any) => {
        if (params.dataIndex !== 0) return null;
        const xs = fitX[g];
        const top = xs.map((x, i) => api.coord([x, upper[g][i]]));
        const bot = xs.map((x, i) => api.coord([x, lower[g][i]])).reverse();
        return { type: 'polygon', shape: { points: [...top, ...bot] }, style: { fill } };
      },
    });
    series.push(band(ratioBandUpper, ratioBandLower, 'rgba(100,149,237,0.27)'));
    series.push(band(ssfrBandUpper, ssfrBandLower, 'rgba(255,140,0,0.25)'));

    const c = panelColors[g];
    series.push({
      type: 'scatter', ...ax, silent: true, z: 2,
      data: panelPoints[g].map(([x, y, s, m]) => ({
        value: [x, y],
        symbol: SYMBOLS[m],
        symbolSize: s,
        symbolRotate: m === 'v' ? 180 : 0,
        itemStyle: {
          color: (m === '^' || m === 'v') && s <= 6 ? c : 'rgba(0,0,0,0)',
          borderColor: c,
          borderWidth: 1.7,
        },
      })),
      markLine: {
        silent: true, symbol: ['none', 'none'], label: { show: false },
        lineStyle: { type: [12, 6.3], color: '#000', width: 3.5 },
        data: [{ yAxis: mergerThreshold }],
      },
    });

    series.push({
      type: 'line', ...ax, name: ratioLegend[g], silent: true, z: 3,
      data: fitX[g].map((x, i) => [x, ratioFitY[g][i]]),
      symbol: 'none', color: RATIO_COLOR, lineStyle: { color: RATIO_COLOR, width: 3.5 },
    });
    series.push({
      type: 'line', ...ax, name: ssfrLegend[g], silent: true, z: 3,
      data: fitX[g].map((x, i) => [x, ssfrFitY[g][i]]),
      symbol: 'none', color: SSFR_COLOR, lineStyle: { color: SSFR_COLOR, width: 3.5 },
    });
  }

  return {
    animation: false,
    backgroundColor: '#fff',
    textStyle: { fontFamily: FONT },
    title: panelTitles.map((t, g) => ({
      text: t, left: GRID_LEFT[g] + GRID_W / 2, top: 3, textAlign: 'center', padding: 0,
      textStyle: { fontSize: 23, fontWeight: 'normal', color: '#000', fontFamily: FONT },
    })),
    legend: [0, 1, 2].map((g) => ({
      data: [ratioLegend[g], ssfrLegend[g]],
      orient: 'vertical', left: GRID_LEFT[g] + 10, top: 41,
      icon: 'rect', itemWidth: 31, itemHeight: 3.5, itemGap: 8,
      backgroundColor: '#fff', borderColor: '#000', borderWidth: 1.2, borderRadius: 5,
      padding: [5, 9, 7, 11], selectedMode: false,
      textStyle: { fontSize: 19, color: '#000', fontFamily: FONT, padding: [0, 0, 0, 15], lineHeight: 20 },
    })),
    grid, xAxis, yAxis, series,
  };
}

export default function App() {
  const ref = useRef<HTMLDivElement>(null);
  useEffect(() => {
    if (!ref.current) return;
    const chart = echarts.init(ref.current, null, { renderer: 'svg' });
    chart.setOption(buildOption() as any);
    return () => chart.dispose();
  }, []);
  return <div ref={ref} style={{ position: 'absolute', left: 0, top: 0, width: 1314, height: 548 }} />;
}
